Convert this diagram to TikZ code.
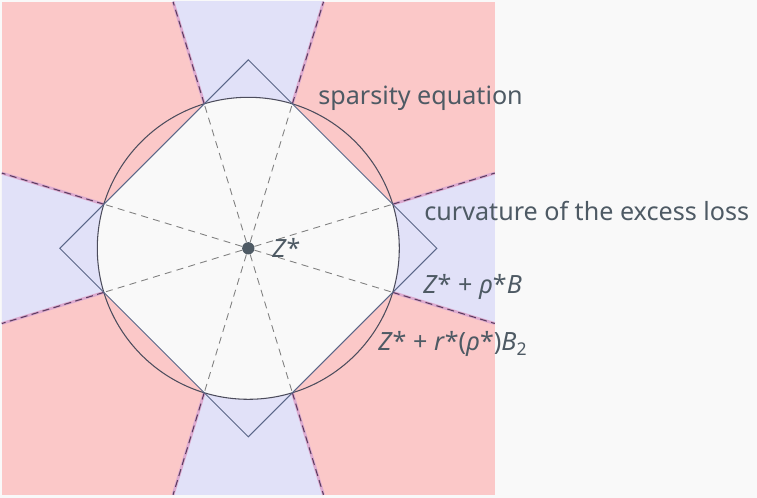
\documentclass[tikz,border=0pt]{standalone}
\usepackage{fontspec}
\setmainfont{Noto Sans}
\usepackage{xcolor}
\usepackage{tikz}
\usetikzlibrary{positioning, calc}

\definecolor{bgc}{HTML}{F9F9F9}
\definecolor{redc}{HTML}{FBC8C8}
\definecolor{bluec}{HTML}{E1E1F8}
\definecolor{txtc}{HTML}{4E5A64}
\definecolor{dmdc}{HTML}{5A6688}
\definecolor{circc}{HTML}{4C4C5C}
\definecolor{halo}{HTML}{DCAACF}
\definecolor{edgec}{HTML}{5C3C60}

\begin{document}
\begin{tikzpicture}[
    lbl/.style={font=\fontsize{14.3}{17}\selectfont, text=txtc, inner sep=0pt, anchor=base west},
    ray/.style={gray, dashed, dash pattern=on 4pt off 3pt, line width=0.5pt},
    rim/.style={edgec, dash pattern=on 4pt off 2.5pt, line width=0.6pt},
    rimhalo/.style={halo, line width=1.6pt}
  ]
  \useasboundingbox[fill=bgc] (-4.966, -4.994) rectangle (10.174, 4.966);
  % colored cones, clipped to the square
  \begin{scope}
    \clip (-4.93, -4.93) rectangle (4.93, 4.93);
    \fill[redc] (-4.93, -4.93) rectangle (4.93, 4.93);
    \foreach \a in {0, 90, 180, 270}
      \fill[bluec] (0, 0) -- (\a-16.97:8) -- (\a+16.97:8) -- cycle;
  \end{scope}
  % ball intersection
  \begin{scope}
    \clip (0, 0) circle (3.02);
    \fill[bgc] (3.77, 0) -- (0, 3.77) -- (-3.77, 0) -- (0, -3.77) -- cycle;
  \end{scope}
  \foreach \a [count=\i] in {16.97, 73.03, 106.97, 163.03, 196.97, 253.03, 286.97, 343.03} {
    \coordinate (p\i) at (\a:3.02);
    \coordinate (q\i) at (\a:5.1545);
  }
  \node[circle, fill=txtc, inner sep=0pt, minimum size=7pt] (z) at (0, 0) {};
  \foreach \i in {1, ..., 8} {
    \draw[ray] (z) -- (p\i);
    \draw[rimhalo] (p\i) -- (q\i);
    \draw[rim] (p\i) -- (q\i);
  }
  \draw[circc, line width=0.6pt] (0, 0) circle (3.02);
  \draw[dmdc, line width=0.6pt] (3.77, 0) -- (0, 3.77) -- (-3.77, 0) -- (0, -3.77) -- cycle;
  % labels
  \node[lbl] (zs) at (0.474, -0.194) {\textit{Z}*};
  \node[lbl] (sp) at (1.394, 2.866) {sparsity equation};
  \node[lbl] (cv) at (3.514, 0.546) {curvature of the excess loss};
  \node[lbl] (bl) at (3.494, -0.914) {\textit{Z}* + \textit{ρ}*\textit{B}};
  \node[lbl] (b2) at (2.594, -2.054) {\textit{Z}* + \textit{r}*(\textit{ρ}*)\textit{B}\textsubscript{2}};
\end{tikzpicture}
\end{document}
